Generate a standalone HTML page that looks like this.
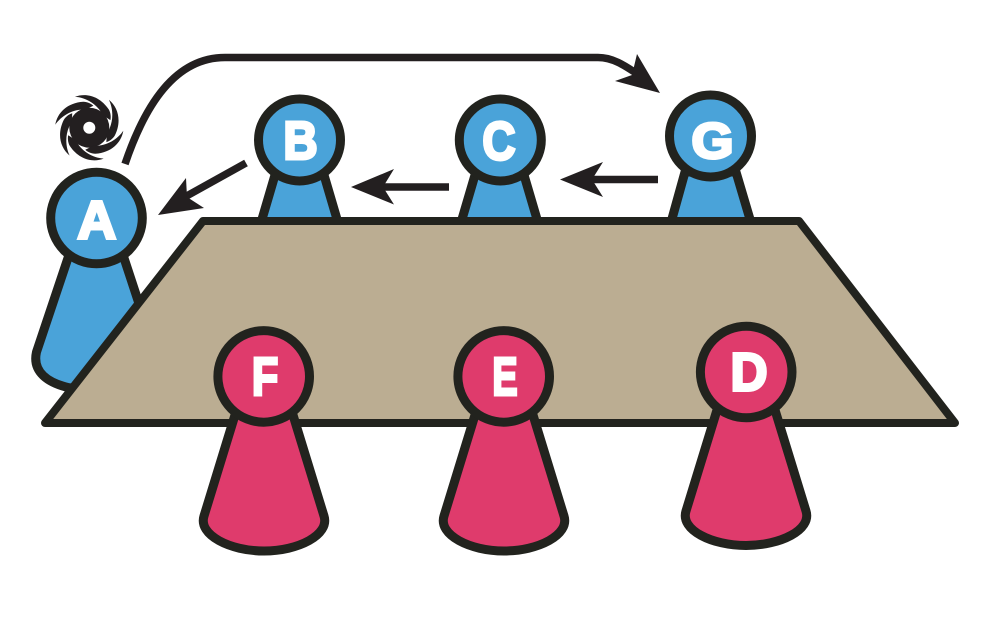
<!DOCTYPE html>
<html>
<head>
<meta charset="utf-8">
<style>
html,body{margin:0;padding:0;background:#fff;width:1005px;height:631px;overflow:hidden}
svg{display:block}
text{font-family:"Liberation Sans",sans-serif;font-weight:700;font-size:54px;fill:#fff;stroke:#fff;stroke-width:3;stroke-linejoin:miter;text-anchor:middle}
</style>
</head>
<body>
<svg width="1005" height="631" viewBox="0 0 1005 631" xmlns="http://www.w3.org/2000/svg">
<rect width="1005" height="631" fill="#fff"/>
<!-- blue bodies -->
<g fill="#4aa3d9" stroke="#22231e" stroke-width="9" stroke-linejoin="round">
  <path d="M69 255 L36.500 352 C32 372 48 383 70 388 L130 380 L151 340 L123 255 Z"/>
  <path d="M275 175 L260 226 L339 226 L324 175 Z"/>
  <path d="M475 175 L460 226 L539 226 L524 175 Z"/>
  <path d="M685 172 L670 226 L752 226 L736 172 Z"/>
  <circle cx="96.500" cy="218" r="45.800"/>
  <circle cx="299.500" cy="140" r="41"/>
  <circle cx="500.300" cy="140" r="41"/>
  <circle cx="710.500" cy="136" r="41"/>
</g>
<!-- table -->
<path d="M203 221 L799 221 L955 423 L45 423 Z" fill="#bbad92" stroke="#22231e" stroke-width="8" stroke-linejoin="round"/>
<!-- red pieces -->
<g fill="#df3b6c" stroke="#22231e" stroke-width="9" stroke-linejoin="round">
  <path d="M235 415 L204 516 C198 535 230 551 264 551 C298 551 330 535 324 516 L293 415 Z"/>
  <path d="M475 415 L444 516 C438 535 470 551 504 551 C538 551 570 535 564 516 L533 415 Z"/>
  <path d="M717 410 L686 511 C680 530 712 545.500 746 545.500 C780 545.500 812 530 806 511 L775 410 Z"/>
  <circle cx="263.700" cy="376.400" r="45.800"/>
  <circle cx="503.700" cy="376.400" r="45.800"/>
  <circle cx="746.200" cy="372" r="45.800"/>
</g>
<!-- letters -->
<text transform="translate(96.700 238.500)">A</text>
<text transform="translate(300.500 159) scale(.88 1)">B</text>
<text transform="translate(499 159.500) scale(.85 1)">C</text>
<text transform="translate(712.500 158) scale(1.08 1)" style="font-size:50px">G</text>
<text transform="translate(265 395) scale(.8 1)">F</text>
<text transform="translate(505 395) scale(.7 1)">E</text>
<text transform="translate(749 390.500) scale(.95 1)">D</text>
<!-- arrows -->
<g fill="none" stroke="#231f20" stroke-width="7.500">
  <path d="M125 164 C145 105 175 57.500 225 57.500 L598 57.500 C615 57.500 628 68 642 77"/>
  <path d="M658 179.500 L588 179.500"/>
  <path d="M449 187 L379 187"/>
  <path d="M246 163 L183 198"/>
</g>
<g fill="#231f20">
  <path d="M660 93 L637 54 L632 75 L615 81 Z"/>
  <path d="M560 179.500 L603 162 L592 179.500 L603 197 Z"/>
  <path d="M351 187 L394 169 L383 187 L394 204.500 Z"/>
  <path d="M158 215 L186 178 L187 197 L204 208 Z"/>
</g>
<!-- swirl -->
<g transform="translate(89.300 127.700)" fill="#231f20">
  <circle r="20"/>
  <path d="M-34 -3 C-32 -15 -22 -25 -6 -26 C-2 -26 2 -24 4 -22 L-4 -18 C-16 -19 -28 -12 -34 -3 Z"/>
  <path d="M-34 -3 C-32 -15 -22 -25 -6 -26 C-2 -26 2 -24 4 -22 L-4 -18 C-16 -19 -28 -12 -34 -3 Z" transform="rotate(60)"/>
  <path d="M-34 -3 C-32 -15 -22 -25 -6 -26 C-2 -26 2 -24 4 -22 L-4 -18 C-16 -19 -28 -12 -34 -3 Z" transform="rotate(120)"/>
  <path d="M-34 -3 C-32 -15 -22 -25 -6 -26 C-2 -26 2 -24 4 -22 L-4 -18 C-16 -19 -28 -12 -34 -3 Z" transform="rotate(180)"/>
  <path d="M-34 -3 C-32 -15 -22 -25 -6 -26 C-2 -26 2 -24 4 -22 L-4 -18 C-16 -19 -28 -12 -34 -3 Z" transform="rotate(240)"/>
  <path d="M-34 -3 C-32 -15 -22 -25 -6 -26 C-2 -26 2 -24 4 -22 L-4 -18 C-16 -19 -28 -12 -34 -3 Z" transform="rotate(300)"/>
  <circle r="6" fill="#fff"/>
</g>
</svg>
</body>
</html>
